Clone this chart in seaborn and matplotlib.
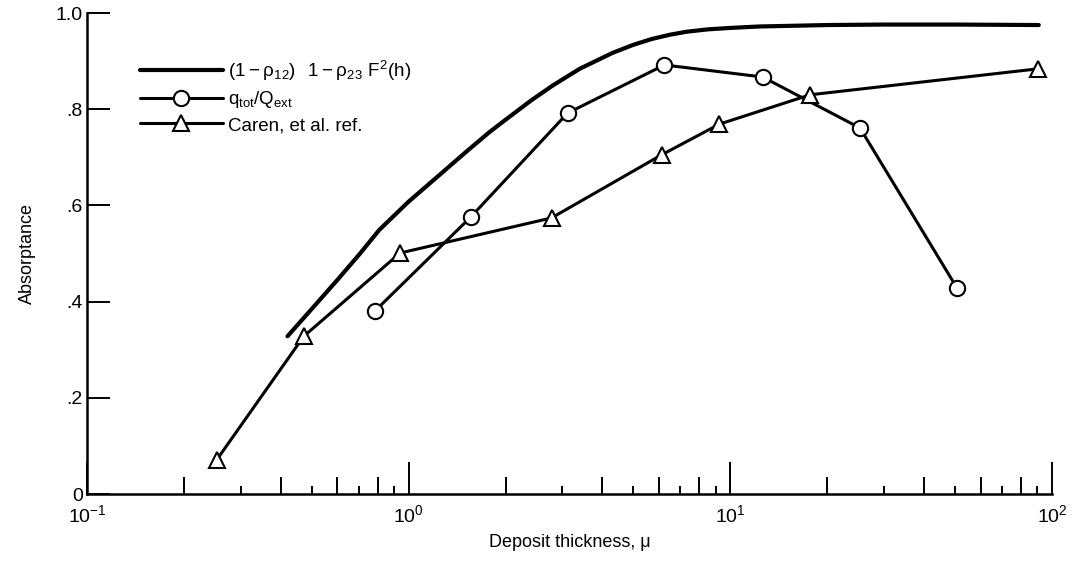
import seaborn as sns
import matplotlib.pyplot as plt
from matplotlib.ticker import FixedLocator, NullLocator, NullFormatter

# curve (1 - rho12)(1 - rho23 F^2(h))
theory_x = [0.42, 0.5, 0.6, 0.7, 0.81, 1.0, 1.25, 1.5, 1.78, 2.0, 2.4, 2.8, 3.4,
            4.3, 5.0, 5.7, 6.5, 7.3, 8.5, 10.0, 12.3, 20.0, 30.0, 50.0, 91.0]
theory_y = [0.328, 0.385, 0.445, 0.497, 0.549, 0.608, 0.664, 0.710, 0.752, 0.778,
            0.818, 0.849, 0.884, 0.917, 0.934, 0.946, 0.955, 0.961, 0.966, 0.969,
            0.972, 0.975, 0.976, 0.976, 0.975]

# q_tot / Q_ext
circ_x = [0.784, 1.56, 3.12, 6.24, 12.6, 25.3, 50.7]
circ_y = [0.380, 0.576, 0.792, 0.892, 0.867, 0.761, 0.428]

# Caren, et al.
tri_x = [0.253, 0.472, 0.94, 2.78, 6.11, 9.25, 17.7, 90.5]
tri_y = [0.071, 0.328, 0.501, 0.574, 0.705, 0.769, 0.830, 0.884]

yticks = [0, 0.2, 0.4, 0.6, 0.8, 1.0]
ylabels = ['0', '.2', '.4', '.6', '.8', '1.0']

sns.set_style("ticks")
plt.rcParams['font.family'] = ['Liberation Sans Narrow', 'Liberation Sans', 'DejaVu Sans']
plt.rcParams['mathtext.default'] = 'regular'
for k in ('text.color', 'axes.labelcolor', 'xtick.color', 'ytick.color', 'axes.edgecolor'):
    plt.rcParams[k] = 'black'

fig = plt.figure(figsize=(10.72, 5.61), dpi=100)
ax = fig.add_axes([0.0812, 0.1194, 0.9001, 0.8574])

sns.lineplot(x=theory_x, y=theory_y, sort=False, color='black', linewidth=3.0,
             label=r'$(1 - \rho_{12})\ \ 1 - \rho_{23}\ F^{2}(h)$', ax=ax)
sns.lineplot(x=circ_x, y=circ_y, sort=False, color='black', linewidth=2.2,
             marker='o', markersize=11, markerfacecolor='white',
             markeredgecolor='black', markeredgewidth=1.5,
             label=r'$q_{tot}/Q_{ext}$', ax=ax)
sns.lineplot(x=tri_x, y=tri_y, sort=False, color='black', linewidth=2.2,
             marker='^', markersize=12, markerfacecolor='white',
             markeredgecolor='black', markeredgewidth=1.5,
             label='Caren, et al. ref.', ax=ax)

ax.set_xscale('log')
ax.set_xlim(0.1, 100)
ax.set_ylim(0, 1.0)
ax.set_yticks(yticks)
ax.set_yticklabels(ylabels)

ax.xaxis.set_major_locator(FixedLocator([0.1, 1, 10, 100]))
ax.xaxis.set_minor_locator(FixedLocator([d * s for d in (0.1, 1, 10) for s in (2, 4, 6, 8)]))
ax.xaxis.set_minor_formatter(NullFormatter())

ax.tick_params(axis='x', which='major', direction='in', length=23, width=1.4,
               labelsize=14, pad=7)
ax.tick_params(axis='x', which='minor', direction='in', length=12, width=1.4)
ax.tick_params(axis='y', which='major', direction='in', length=16.5, width=1.4,
               labelsize=14, pad=3)
ax.yaxis.set_minor_locator(NullLocator())

# odd subdivisions drawn shorter
sec = ax.secondary_xaxis('bottom')
sec.set_xticks([d * s for d in (0.1, 1, 10) for s in (3, 5, 7, 9)])
sec.xaxis.set_minor_locator(NullLocator())
sec.tick_params(axis='x', which='major', direction='in', length=6, width=1.4,
                labelbottom=False)
sec.spines['bottom'].set_visible(False)

for side in ('left', 'bottom'):
    ax.spines[side].set_linewidth(1.8)
sns.despine(ax=ax)

ax.set_xlabel('Deposit thickness, \u03bc', fontsize=13, labelpad=6)
ax.set_ylabel('Absorptance', fontsize=13, labelpad=14)

ax.legend(loc='upper left', bbox_to_anchor=(0.055, 0.905), frameon=False,
          handlelength=4.4, fontsize=13.5, labelspacing=0.35, borderpad=0,
          borderaxespad=0, handletextpad=0.3)

fig.savefig('out.png', dpi=100)
